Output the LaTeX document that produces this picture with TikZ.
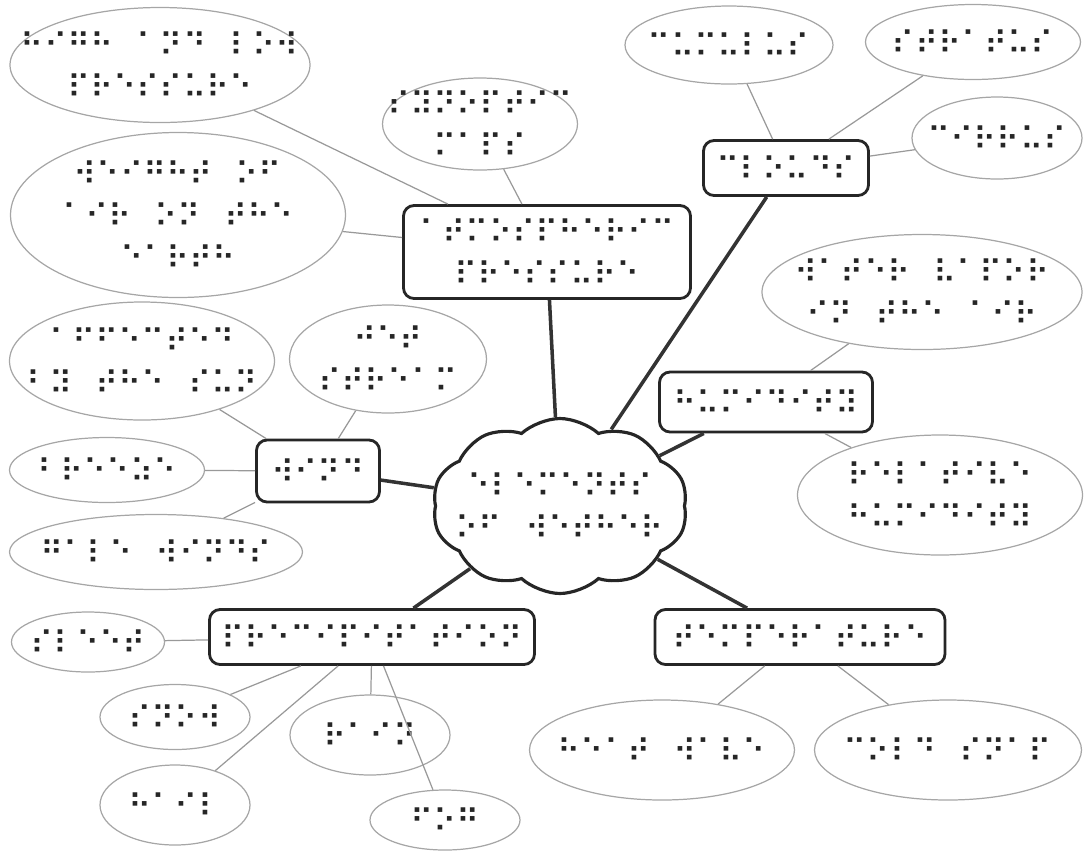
\documentclass[tikz,border=0pt]{standalone}
\usepackage{fontspec}
\newfontfamily\brl{DejaVu Sans}
\usetikzlibrary{shapes.geometric, shapes.symbols}

\begin{document}
\begin{tikzpicture}[x=0.2mm, y=-0.2mm,
            dots/.style={font=\brl\fontsize{18}{24}\selectfont, text=black!85, align=center, inner sep=0pt},
            leaf/.style={dots, ellipse, draw=black!35, line width=0.7pt, inner xsep=-9mm, inner ysep=-2.5mm},
            topic/.style={dots, rectangle, draw=black!85, line width=1.6pt, rounded corners=6pt},
            hub/.style={cloud, cloud puffs=10, cloud puff arc=85, aspect=1.45, draw=black!85, line width=1.8pt, inner sep=0pt},
            twig/.style={draw=black!40, line width=0.7pt},
            branch/.style={draw=black!80, line width=2pt}
        ]
            \useasboundingbox (0,0) rectangle (1085,852);

            \node[hub, minimum width=51mm, minimum height=35mm] (weather) at (560,506) {};
            \node[dots] (weathertext) at (560,506) {⠑⠇⠑⠍⠑⠝⠞⠎\\⠕⠋⠀⠺⠑⠞⠓⠑⠗};

            \node[topic, minimum width=57.4mm, minimum height=18.6mm] (atmos) at (547,252) {⠁⠞⠍⠕⠎⠏⠓⠑⠗⠊⠉\\⠏⠗⠑⠎⠎⠥⠗⠑};
            \node[topic, minimum width=33mm, minimum height=11mm] (clouds) at (786,168) {⠉⠇⠕⠥⠙⠎};
            \node[topic, minimum width=42.6mm, minimum height=12mm] (humid) at (766,402) {⠓⠥⠍⠊⠙⠊⠞⠽};
            \node[topic, minimum width=24.6mm, minimum height=12.4mm] (wind) at (318,471) {⠺⠊⠝⠙};
            \node[topic, minimum width=65mm, minimum height=11mm] (precip) at (372,637) {⠏⠗⠑⠉⠊⠏⠊⠞⠁⠞⠊⠕⠝};
            \node[topic, minimum width=58mm, minimum height=11mm] (temp) at (800,637) {⠞⠑⠍⠏⠑⠗⠁⠞⠥⠗⠑};

            \node[leaf, minimum width=60mm, minimum height=23mm] (highlow) at (160,65) {⠓⠊⠛⠓⠀⠁⠝⠙⠀⠇⠕⠺\\⠏⠗⠑⠎⠎⠥⠗⠑};
            \node[leaf, minimum width=67mm, minimum height=33mm] (weight) at (178,215) {⠺⠑⠊⠛⠓⠞⠀⠕⠋\\⠁⠊⠗⠀⠕⠝⠀⠞⠓⠑\\⠑⠁⠗⠞⠓};
            \node[leaf, minimum width=39mm, minimum height=18.4mm] (synmaps) at (480,124) {⠎⠽⠝⠕⠏⠞⠊⠉\\⠍⠁⠏⠎};

            \node[leaf, minimum width=41.6mm, minimum height=15.6mm] (cumulus) at (729,45) {⠉⠥⠍⠥⠇⠥⠎};
            \node[leaf, minimum width=43mm, minimum height=15mm] (stratus) at (973,42) {⠎⠞⠗⠁⠞⠥⠎};
            \node[leaf, minimum width=34mm, minimum height=16.4mm] (cirrus) at (997,138) {⠉⠊⠗⠗⠥⠎};

            \node[leaf, minimum width=64mm, minimum height=23mm] (vapour) at (922,292) {⠺⠁⠞⠑⠗⠀⠧⠁⠏⠕⠗\\⠊⠝⠀⠞⠓⠑⠀⠁⠊⠗};
            \node[leaf, minimum width=57mm, minimum height=24mm] (relhum) at (940,495) {⠗⠑⠇⠁⠞⠊⠧⠑\\⠓⠥⠍⠊⠙⠊⠞⠽};

            \node[leaf, minimum width=53mm, minimum height=23.6mm] (sun) at (142,361) {⠁⠋⠋⠑⠉⠞⠑⠙\\⠃⠽⠀⠞⠓⠑⠀⠎⠥⠝};
            \node[leaf, minimum width=39.4mm, minimum height=21.6mm] (jet) at (388,359) {⠚⠑⠞\\⠎⠞⠗⠑⠁⠍};
            \node[leaf, minimum width=39mm, minimum height=13mm] (breeze) at (107,470) {⠃⠗⠑⠑⠵⠑};
            \node[leaf, minimum width=58.6mm, minimum height=15mm] (gale) at (156,552) {⠛⠁⠇⠑⠀⠺⠊⠝⠙⠎};

            \node[leaf, minimum width=30.6mm, minimum height=12mm] (sleet) at (88,642) {⠎⠇⠑⠑⠞};
            \node[leaf, minimum width=30mm, minimum height=13mm] (snow) at (175,717) {⠎⠝⠕⠺};
            \node[leaf, minimum width=32mm, minimum height=16mm] (rain) at (370,735) {⠗⠁⠊⠝};
            \node[leaf, minimum width=30mm, minimum height=16mm] (hail) at (175,805) {⠓⠁⠊⠇};
            \node[leaf, minimum width=30mm, minimum height=12mm] (fog) at (445,820) {⠋⠕⠛};

            \node[leaf, minimum width=53mm, minimum height=20mm] (heat) at (662,750) {⠓⠑⠁⠞⠀⠺⠁⠧⠑};
            \node[leaf, minimum width=53.4mm, minimum height=20mm] (cold) at (948,750) {⠉⠕⠇⠙⠀⠎⠝⠁⠏};

            % main branches
            \draw[branch] (weather) -- (atmos);
            \draw[branch] (weather) -- (clouds);
            \draw[branch] (weather) -- (humid);
            \draw[branch] (weather) -- (wind);
            \draw[branch] (weather) -- (precip);
            \draw[branch] (weather) -- (temp);

            % leaves
            \draw[twig] (atmos) -- (highlow);
            \draw[twig] (atmos) -- (weight);
            \draw[twig] (atmos) -- (synmaps);
            \draw[twig] (clouds) -- (cumulus);
            \draw[twig] (clouds) -- (stratus);
            \draw[twig] (clouds) -- (cirrus);
            \draw[twig] (humid) -- (vapour);
            \draw[twig] (humid) -- (relhum);
            \draw[twig] (wind) -- (sun);
            \draw[twig] (wind) -- (jet);
            \draw[twig] (wind) -- (breeze);
            \draw[twig] (wind) -- (gale);
            \draw[twig] (precip) -- (sleet);
            \draw[twig] (precip) -- (snow);
            \draw[twig] (precip) -- (rain);
            \draw[twig] (precip) -- (hail);
            \draw[twig] (precip) -- (fog);
            \draw[twig] (temp) -- (heat);
            \draw[twig] (temp) -- (cold);
        \end{tikzpicture}
\end{document}
